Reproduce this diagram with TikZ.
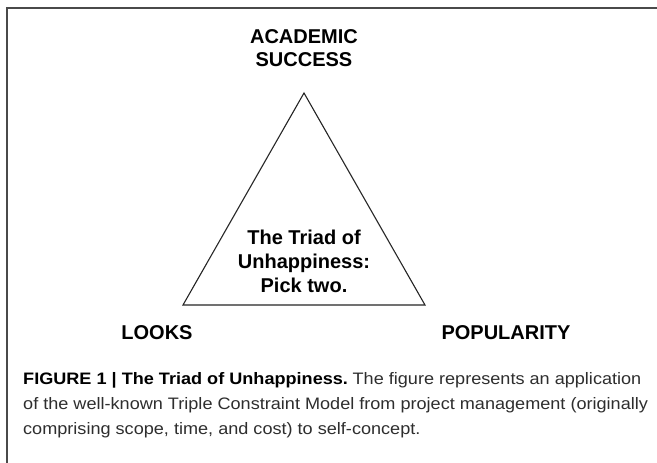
\documentclass[tikz,border=0pt]{standalone}
\usepackage{fontspec}
\setmainfont{Liberation Sans}
\newfontfamily\capfont[FakeStretch=1.09]{Liberation Sans}
\definecolor{framegray}{HTML}{4A4A4A}
\definecolor{captext}{HTML}{2E2E2E}
\tikzset{
  lbl/.style={font=\fontsize{20}{23.5}\selectfont\bfseries, align=center, inner sep=0pt, text=black},
  tri/.style={draw=black!85, line width=1.1pt, line join=miter},
  framestyle/.style={draw=framegray, line width=1.6pt},
  captionbox/.style={font=\capfont\fontsize{16.6}{25}\selectfont, align=left, inner sep=0pt, text=captext, anchor=north west}
}
\begin{document}
\begin{tikzpicture}[x=1pt,y=-1pt]
\useasboundingbox (0,0) rectangle (657,463);
\fill[white] (0,0) rectangle (657,463);
\coordinate (fbl) at (7,470);
\coordinate (ftl) at (7,8);
\coordinate (ftr) at (665,8);
\draw[framestyle] (fbl) -- (ftl) -- (ftr);
\coordinate (apex) at (304,93);
\coordinate (bl) at (183,305);
\coordinate (br) at (425,305);
\draw[tri] (apex) -- (bl) -- (br) -- cycle;
\node[lbl] (acad) at (304,48) {ACADEMIC\\SUCCESS};
\node[lbl] (looks) at (157,333) {LOOKS};
\node[lbl] (pop) at (506,333) {POPULARITY};
\node[lbl, font=\fontsize{20}{24}\selectfont\bfseries] (triad) at (304,261) {The Triad of\\Unhappiness:\\Pick two.};
\node[captionbox] (caption) at (23,372) {{\color{black}\bfseries FIGURE 1 | The Triad of Unhappiness.}\hspace{-2pt} The figure represents an application\\of the well-known Triple Constraint Model from project management (originally\\comprising scope, time, and cost) to self-concept.};
\end{tikzpicture}
\end{document}
